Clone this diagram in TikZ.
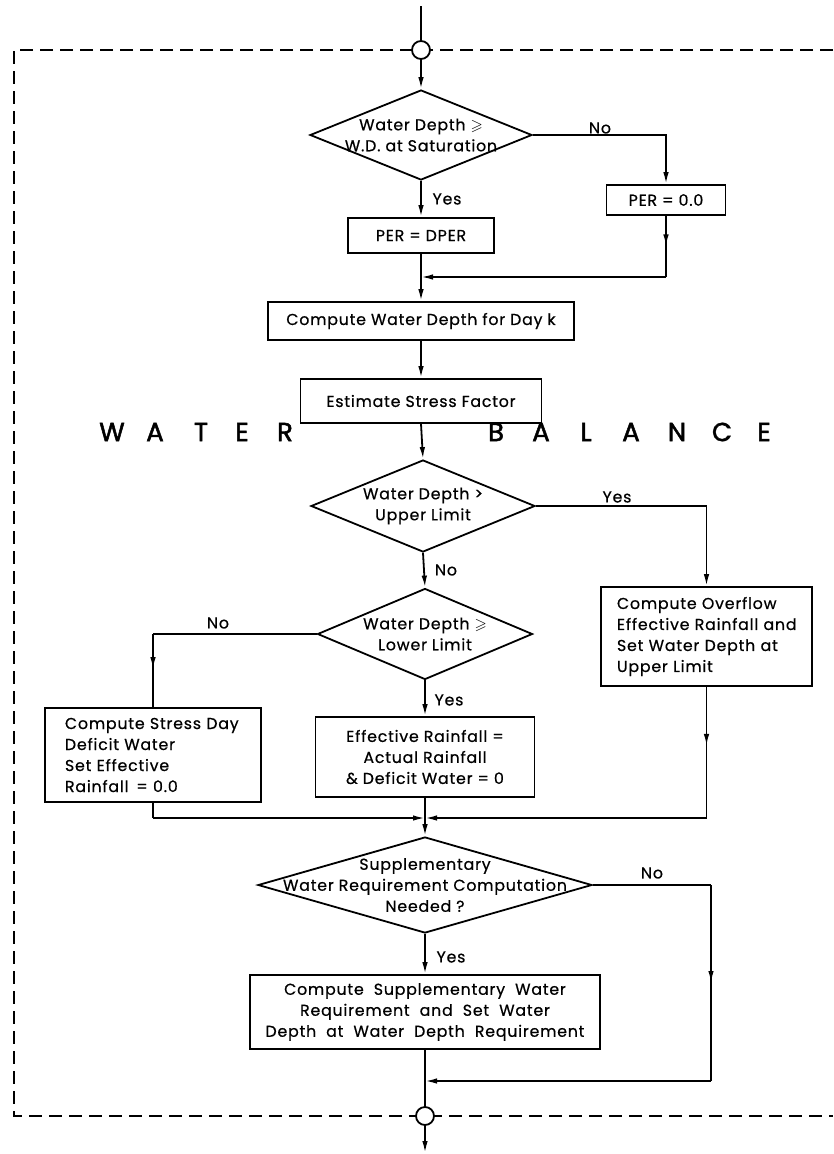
\documentclass[tikz,border=0pt]{standalone}
\usepackage{amssymb}
\usepackage{fontspec}
\setmainfont{Poppins}[LetterSpace=5,FakeBold=0.6]
\newfontfamily\bigfam{Poppins}[FakeBold=2]
\usetikzlibrary{arrows.meta,shapes.geometric,decorations.markings}
\newcommand\txt{\fontsize{15.8}{21}\selectfont}
\newcommand\bigtxt{\bigfam\fontsize{26}{28}\selectfont}
\begin{document}
\begin{tikzpicture}[x=1pt,y=-1pt,line width=1.8pt,
  box/.style={draw, rectangle, inner sep=0pt, align=center, font=\txt},
  dec/.style={draw, diamond, inner sep=0pt},
  lbl/.style={align=center, font=\txt, inner sep=0pt},
  yn/.style={font=\txt, inner sep=0pt},
  big/.style={font=\bigtxt, inner sep=0pt},
  arr/.style={-{Latex[length=12pt,width=5.5pt]}},
  midarrow/.style={postaction={decorate}, decoration={markings,
     mark=at position #1 with {\arrow{Latex[length=12pt,width=5.5pt]}}}},
  midarrow/.default=0.55,
  joint/.style={draw, circle, fill=white, minimum size=18pt, inner sep=0pt},
  dashframe/.style={line width=1.5pt, dash pattern=on 13pt off 7pt}]
\useasboundingbox (0,0) rectangle (833,1154);

% dashed frame
\coordinate (fr1) at (833,50);
\coordinate (fr2) at (14,50);
\coordinate (fr3) at (14,1116);
\coordinate (fr4) at (833,1116);
\draw[dashframe] (fr1) -- (fr2) -- (fr3) -- (fr4);

% nodes
\coordinate (entry) at (421,6);
\node[joint] (c1) at (421,50) {};
\node[dec, minimum width=222pt, minimum height=90pt,
  label={[lbl]center:{Water Depth $\geqslant$\\W.D. at Saturation}}] (d1) at (421,135) {};
\node[box, minimum width=119pt, minimum height=30pt] (per0) at (666,200) {PER = 0.0};
\node[box, minimum width=146pt, minimum height=35pt] (perd) at (421,235.5) {PER = DPER};
\coordinate (m1) at (666,277);
\node[box, minimum width=306pt, minimum height=38pt] (b1) at (421,321) {Compute Water Depth for Day k};
\node[box, minimum width=241pt, minimum height=44pt] (b2) at (421,401) {Estimate Stress Factor};

\foreach \l/\x [count=\i] in {W/112,A/155,T/201,E/242,R/285}
  \node[big] (wa\i) at (\x,432) {\l};
\foreach \l/\x [count=\i] in {B/496,A/541,L/586,A/631,N/677,C/722,E/764}
  \node[big] (ba\i) at (\x,432) {\l};

\node[dec, minimum width=224pt, minimum height=92pt,
  label={[lbl]center:{Water Depth >\\Upper Limit}}] (d2) at (423,506) {};
\node[box, minimum width=211pt, minimum height=99pt, text width=179pt, inner xsep=16pt, align=left]
  (ov) at (706.5,636.5) {Compute Overflow\\Effective Rainfall and\\Set Water Depth at\\Upper Limit};
\node[dec, minimum width=215pt, minimum height=91pt,
  label={[lbl]center:{Water Depth $\geqslant$\\Lower Limit}}] (d3) at (425,634) {};
\node[box, minimum width=216pt, minimum height=94pt, text width=176pt, inner xsep=20pt, align=left]
  (lb) at (153,755) {Compute Stress Day\\Deficit Water\\Set Effective\\Rainfall \,= 0.0};
\node[box, minimum width=219pt, minimum height=80pt] (mb) at (425,757)
  {Effective Rainfall =\\Actual Rainfall\\\& Deficit Water = 0};
\coordinate (j) at (425,818);
\node[dec, minimum width=334pt, minimum height=96pt,
  label={[lbl]center:{Supplementary\\Water Requirement Computation\\Needed ?}}] (d4) at (425,885) {};
\coordinate (r4a) at (711,885);
\coordinate (r4b) at (711,1081);
\node[box, minimum width=350pt, minimum height=74pt] (bb) at (425,1012)
  {Compute \ Supplementary \ Water\\Requirement \ and \ Set \ Water\\Depth \ at \ Water \ Depth \ Requirement};
\node[joint] (c2) at (425,1116) {};
\coordinate (exit) at (425,1153);

% labels
\node[yn] (no1) at (600,128) {No};
\node[yn] (yes1) at (447,199) {Yes};
\node[yn] (yes2) at (617,497) {Yes};
\node[yn] (no2) at (446,570) {No};
\node[yn] (no3) at (218,623) {No};
\node[yn] (yes3) at (449,700) {Yes};
\node[yn] (no4) at (652,873) {No};
\node[yn] (yes4) at (451,957) {Yes};

% connectors
\draw (entry) -- (c1);
\draw[arr] (c1) -- (d1.north);
\draw[arr] (d1.east) -| (per0.north);
\draw[arr] (d1.south) -- (perd.north);
\draw[midarrow=0.5] (per0.south) -- (m1);
\draw[arr] (m1) -- (m1 -| perd.south);
\draw[arr] (perd.south) -- (b1.north);
\draw[arr] (b1.south) -- (b2.north);
\draw[arr] (b2.south) -- (d2.north);
\draw[arr] (d2.east) -| (ov.north);
\draw[arr] (d2.south) -- (d3.north);
\draw (d3.west) -- (d3.west -| lb.north);
\draw[midarrow=0.48] (d3.west -| lb.north) -- (lb.north);
\draw[arr] (d3.south) -- (mb.north);
\draw (lb.south) -- (lb.south |- j);
\draw[arr] (lb.south |- j) -- (j);
\draw[midarrow=0.45] (ov.south) -- (ov.south |- j);
\draw[arr] (ov.south |- j) -- (j);
\draw (mb.south) -- (j);
\draw[arr] (j) -- (d4.north);
\draw (d4.east) -- (r4a);
\draw[midarrow=0.5] (r4a) -- (r4b);
\draw[arr] (r4b) -- (r4b -| bb.south);
\draw[arr] (d4.south) -- (bb.north);
\draw (bb.south) -- (c2);
\draw[arr] (c2) -- (exit);
\end{tikzpicture}
\end{document}
